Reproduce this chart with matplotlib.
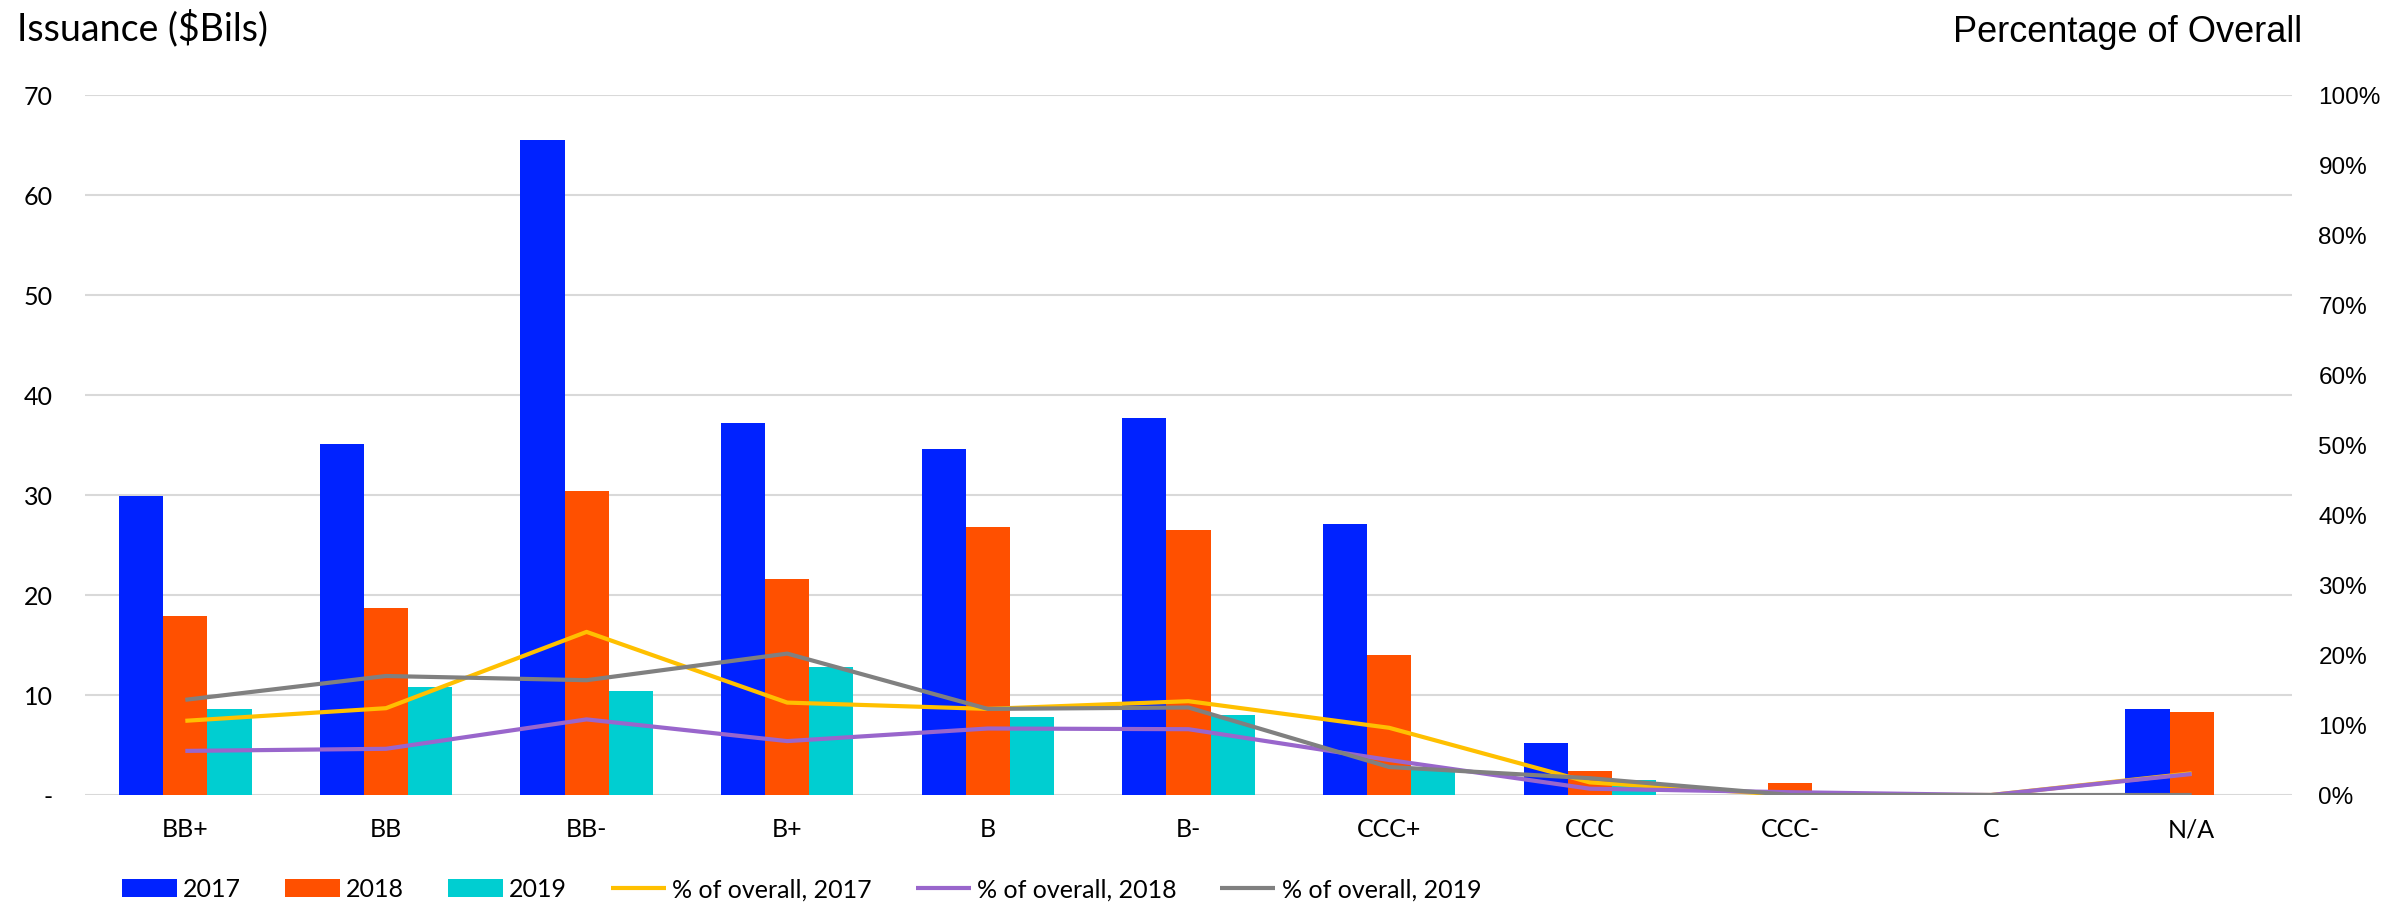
import numpy as np
import matplotlib as mpl
mpl.use("Agg")
import matplotlib.pyplot as plt

# data
ratings = ['BB+', 'BB', 'BB-', 'B+', 'B', 'B-', 'CCC+', 'CCC', 'CCC-', 'C', 'N/A']
iss_2017 = [29.9, 35.1, 65.5, 37.2, 34.6, 37.7, 27.1, 5.2, 0.0, 0.0, 8.6]
iss_2018 = [17.9, 18.7, 30.4, 21.6, 26.8, 26.5, 14.0, 2.4, 1.2, 0.0, 8.3]
iss_2019 = [8.6, 10.8, 10.4, 12.8, 7.8, 8.0, 2.6, 1.5, 0.0, 0.0, 0.0]
pct_2017 = [10.6, 12.4, 23.3, 13.2, 12.3, 13.4, 9.6, 1.8, 0.0, 0.0, 3.1]
pct_2018 = [6.3, 6.6, 10.8, 7.7, 9.5, 9.4, 5.0, 0.9, 0.4, 0.0, 3.0]
pct_2019 = [13.6, 17.0, 16.4, 20.2, 12.3, 12.5, 4.0, 2.4, 0.0, 0.0, 0.0]
left_ticks = [0, 10, 20, 30, 40, 50, 60, 70]
left_labels = ['-', '10', '20', '30', '40', '50', '60', '70']
right_ticks = [0, 10, 20, 30, 40, 50, 60, 70, 80, 90, 100]

#colors
blue = '#0022FF'
orange = '#FF5000'
cyan = '#00CED1'
yellow = '#FFC000'
purple = '#9966CC'
grey = '#808080'
grid_col = '#D9D9D9'

main_font = 'Lato'
arial = 'Liberation Sans'

W, H = 2384, 903
fig = plt.figure(figsize=(W/100, H/100), dpi=100)
ax = fig.add_axes([85/W, 1-796/H, (2292-85)/W, (796-96)/H])
ax2 = ax.twinx()

x = np.arange(len(ratings))
bw = 0.22
b1 = ax.bar(x - bw, iss_2017, bw, color=blue, label='2017')
b2 = ax.bar(x, iss_2018, bw, color=orange, label='2018')
b3 = ax.bar(x + bw, iss_2019, bw, color=cyan, label='2019')

line_props = {'linewidth': 3.0, 'solid_capstyle': 'butt'}
l1, = ax2.plot(x, pct_2017, color=yellow, label='% of overall, 2017', **line_props)
l2, = ax2.plot(x, pct_2018, color=purple, label='% of overall, 2018', **line_props)
l3, = ax2.plot(x, pct_2019, color=grey, label='% of overall, 2019', **line_props)

ax.set_xlim(-0.5, len(ratings) - 0.5)
ax.set_ylim(0, 70)
ax2.set_ylim(0, 100)

ax.set_yticks(left_ticks)
ax.set_yticklabels(left_labels, fontsize=18, family=main_font)
ax2.set_yticks(right_ticks)
ax2.set_yticklabels(['%d%%' % t for t in right_ticks], fontsize=17.5, family=arial)
ax.set_xticks(x)
ax.set_xticklabels(ratings, fontsize=18, family=main_font)

ax.yaxis.grid(True, color=grid_col, linewidth=1.5)
ax.set_axisbelow(True)

for axis in [ax, ax2]:
    for sp in axis.spines.values():
        sp.set_visible(False)
    axis.tick_params(length=0)
ax.tick_params('y', pad=23)
ax.tick_params('x', pad=16)
ax2.tick_params('y', pad=19)

fig.text(17/W, 1-28/H, 'Issuance ($Bils)', fontsize=27, family=main_font,
         ha='left', va='center')
fig.text(2302/W, 1-32/H, 'Percentage of Overall', fontsize=26, family=arial,
         ha='right', va='center')

fig.legend([b1, b2, b3, l1, l2, l3],
           ['2017', '2018', '2019', '% of overall, 2017', '% of overall, 2018',
            '% of overall, 2019'],
           ncol=6, frameon=False, loc='center left',
           bbox_to_anchor=(122/W, 1-890/H), borderpad=0, borderaxespad=0,
           handlelength=2.2, handletextpad=0.25, columnspacing=1.75,
           prop={'family': main_font, 'size': 18})

fig.savefig('out.png', dpi=100)
